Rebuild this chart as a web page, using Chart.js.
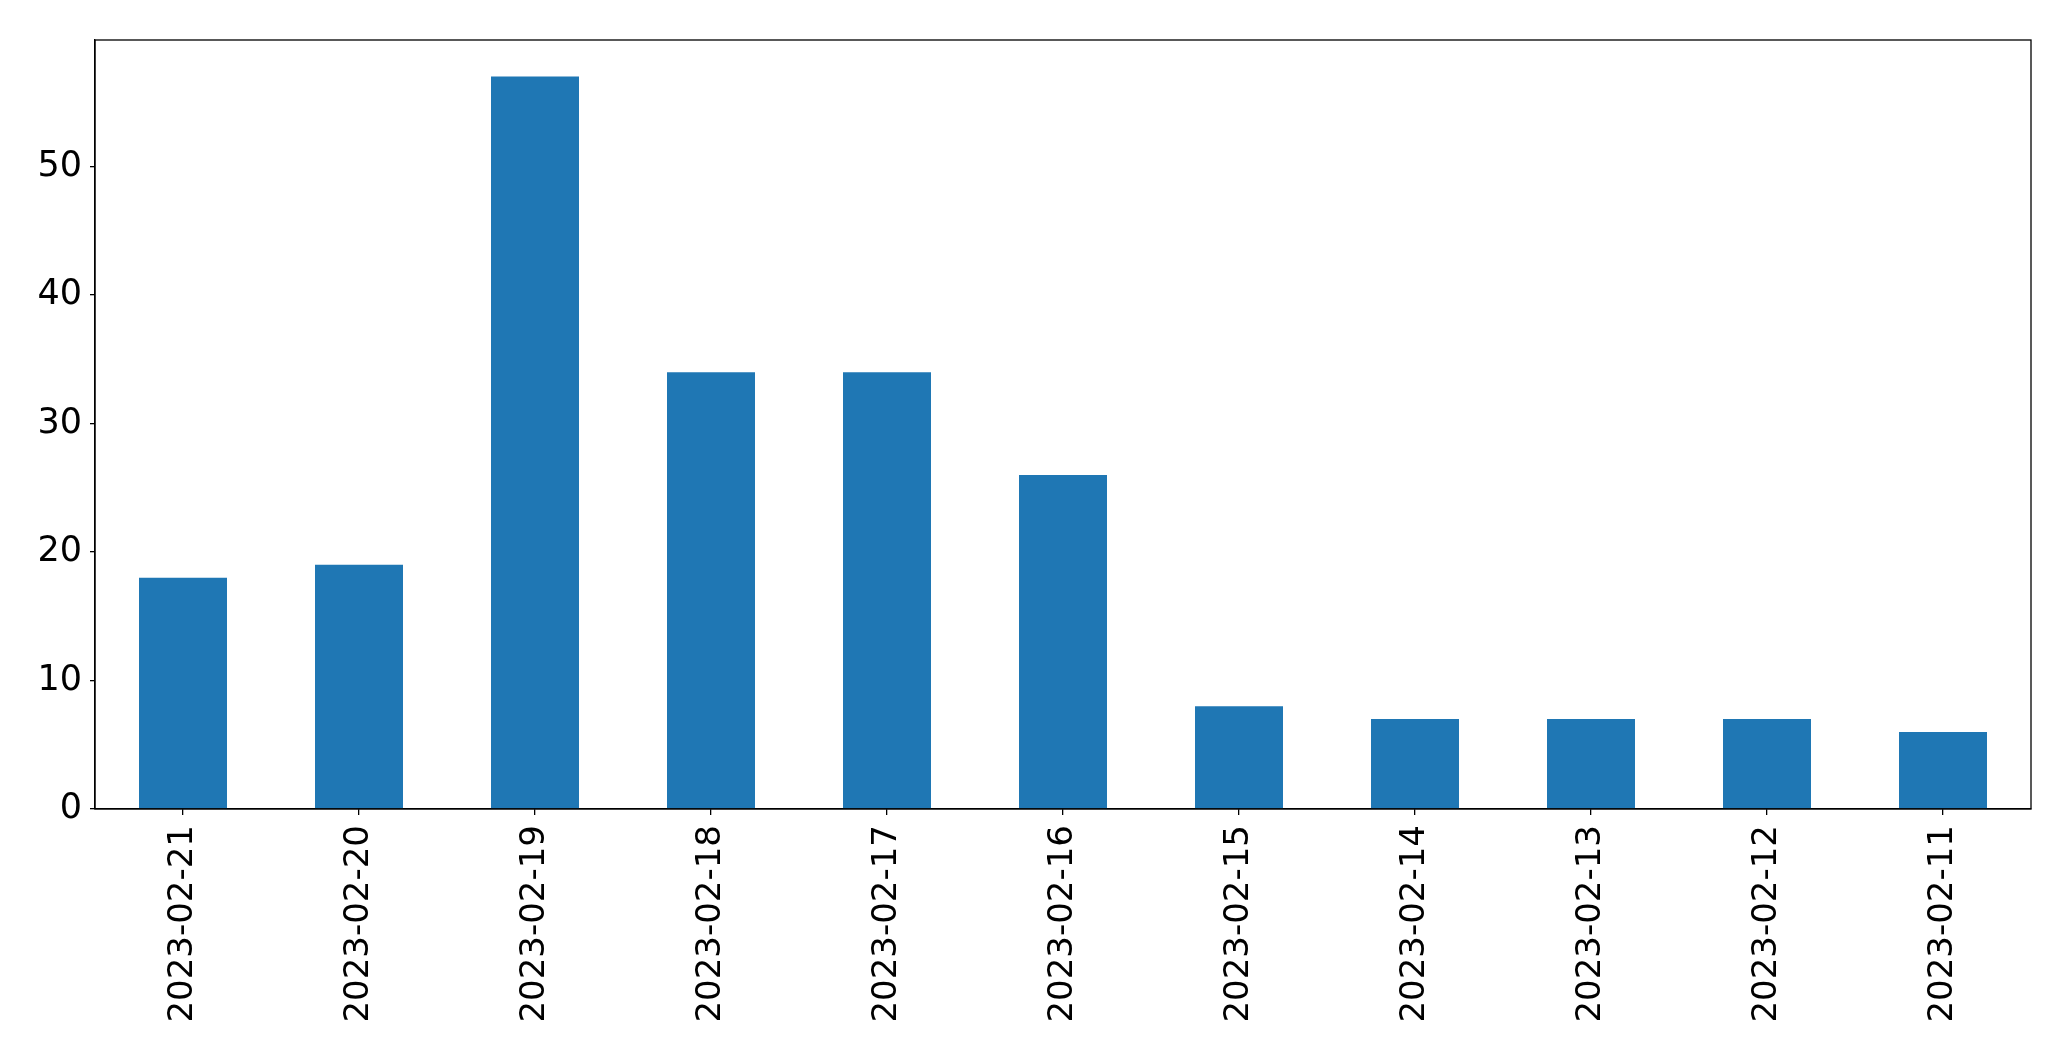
<!DOCTYPE html>
<html>
<head>
<meta charset="utf-8">
<script src="https://cdn.jsdelivr.net/npm/chart.js@4/dist/chart.umd.min.js"></script>
<style>
html,body{margin:0;padding:0;background:#fff;}
#wrap{width:2071px;height:1061px;}
</style>
</head>
<body>
<div id="wrap"><canvas id="c" width="2071" height="1061"></canvas></div>
<script>
const categories = ["2023-02-21","2023-02-20","2023-02-19","2023-02-18","2023-02-17","2023-02-16","2023-02-15","2023-02-14","2023-02-13","2023-02-12","2023-02-11"];
const counts = [18, 19, 57, 34, 34, 26, 8, 7, 7, 7, 6];
const yTicks = [0, 10, 20, 30, 40, 50];
const yMax = 59.85;

const frame = {
  id: 'frame',
  afterDraw(chart) {
    const a = chart.chartArea, ctx = chart.ctx;
    ctx.save();
    ctx.strokeStyle = '#000';
    ctx.lineWidth = 1.3;
    ctx.strokeRect(a.left, a.top, a.right - a.left, a.bottom - a.top);
    ctx.restore();
  }
};

new Chart(document.getElementById('c'), {
  type: 'bar',
  data: {
    labels: categories,
    datasets: [{
      data: counts,
      backgroundColor: '#1f77b4',
      borderWidth: 0,
      categoryPercentage: 1.0,
      barPercentage: 0.5
    }]
  },
  options: {
    responsive: false,
    animation: false,
    devicePixelRatio: 1,
    layout: { padding: { top: 40, right: 40, left: 0, bottom: 0 } },
    plugins: { legend: { display: false }, tooltip: { enabled: false } },
    scales: {
      x: {
        grid: { offset: false, drawOnChartArea: false, drawTicks: true, tickLength: 6, color: '#000', lineWidth: 1.3 },
        border: { display: true, color: '#000', width: 1.3 },
        ticks: {
          minRotation: 90, maxRotation: 90, autoSkip: false,
          padding: 10, color: '#000',
          font: { family: 'DejaVu Sans', size: 34 }
        },
        afterFit(scale) { scale.height = 252; }
      },
      y: {
        min: 0, max: yMax,
        grid: { drawOnChartArea: false, drawTicks: true, tickLength: 5, color: '#000', lineWidth: 1.3 },
        border: { display: true, color: '#000', width: 1.3 },
        ticks: {
          padding: 8, color: '#000',
          font: { family: 'DejaVu Sans', size: 35 }
        },
        afterBuildTicks(scale) { scale.ticks = yTicks.map(v => ({ value: v })); },
        afterFit(scale) { scale.width = 95; }
      }
    }
  },
  plugins: [frame]
});
</script>
</body>
</html>
